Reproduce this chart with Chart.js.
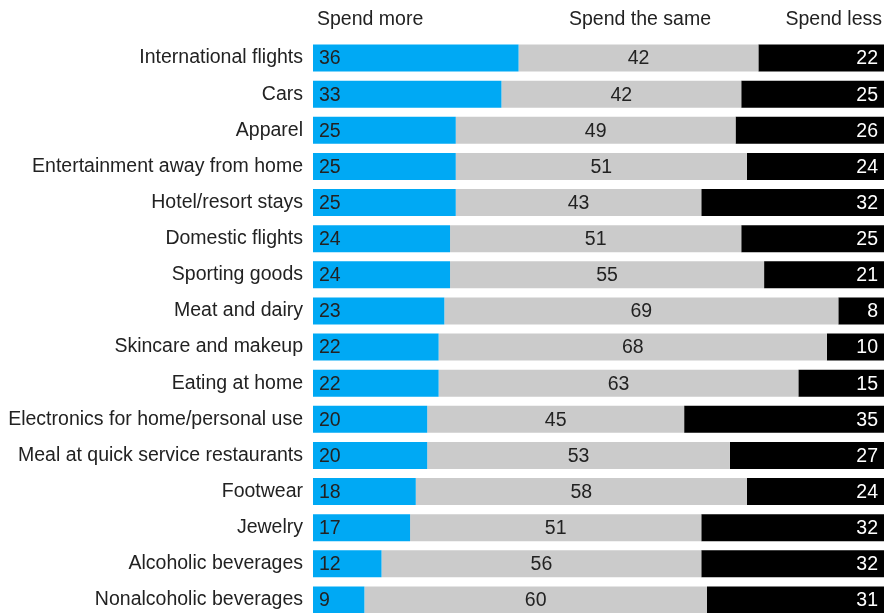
<!DOCTYPE html>
<html>
<head>
<meta charset="utf-8">
<script src="https://cdn.jsdelivr.net/npm/chart.js@4/dist/chart.umd.min.js"></script>
<style>
  html, body { margin: 0; padding: 0; background: #fff; overflow: hidden; }
  #zone { width: 884px; height: 618px; }
</style>
</head>
<body>
<div id="zone"><canvas id="graphique-depenses"></canvas></div>
<script>
// categories et valeurs (en %)
const categories = [
  "International flights",
  "Cars",
  "Apparel",
  "Entertainment away from home",
  "Hotel/resort stays",
  "Domestic flights",
  "Sporting goods",
  "Meat and dairy",
  "Skincare and makeup",
  "Eating at home",
  "Electronics for home/personal use",
  "Meal at quick service restaurants",
  "Footwear",
  "Jewelry",
  "Alcoholic beverages",
  "Nonalcoholic beverages",
];
const spendMore = [36, 33, 25, 25, 25, 24, 24, 23, 22, 22, 20, 20, 18, 17, 12, 9];
const spendSame = [42, 42, 49, 51, 43, 51, 55, 69, 68, 63, 45, 53, 58, 51, 56, 60];
const spendLess = [22, 25, 26, 24, 32, 25, 21, 8, 10, 15, 35, 27, 24, 32, 32, 31];
const seriesNames = ["Spend more", "Spend the same", "Spend less"];

const police = '"Liberation Sans", Arial, sans-serif';
const couleurTexte = "#222";

// plugin maison : valeurs dans les barres + titres des colonnes en haut
const etiquettes = {
  id: "etiquettes",
  afterDatasetsDraw(chart) {
    const ctx = chart.ctx;
    const zone = chart.chartArea;
    ctx.save();
    ctx.font = "19.5px " + police;
    ctx.textBaseline = "middle";
    chart.data.datasets.forEach((ds, i) => {
      const meta = chart.getDatasetMeta(i);
      meta.data.forEach((barre, j) => {
        const v = ds.data[j];
        const y = barre.y + 1;
        if (i === 0) {
          ctx.fillStyle = couleurTexte;
          ctx.textAlign = "left";
          ctx.fillText(v, barre.base + 6, y);
        } else if (i === 1) {
          ctx.fillStyle = couleurTexte;
          ctx.textAlign = "center";
          ctx.fillText(v, (barre.base + barre.x) / 2, y);
        } else {
          ctx.fillStyle = "#fff";
          ctx.textAlign = "right";
          ctx.fillText(v, barre.x - 6, y);
        }
      });
    });
    // titres des colonnes
    ctx.fillStyle = couleurTexte;
    const yTitre = 20;
    ctx.textAlign = "left";
    ctx.fillText(seriesNames[0], zone.left + 4, yTitre);
    ctx.textAlign = "center";
    ctx.fillText(seriesNames[1], 640, yTitre);
    ctx.textAlign = "right";
    ctx.fillText(seriesNames[2], zone.right - 2, yTitre);
    ctx.restore();
  },
};

const data = {
  labels: categories,
  datasets: [
    { label: seriesNames[0], data: spendMore, backgroundColor: "#00A9F4" },
    { label: seriesNames[1], data: spendSame, backgroundColor: "#CBCBCB" },
    { label: seriesNames[2], data: spendLess, backgroundColor: "#000000" },
  ],
};

const config = {
  type: "bar",
  data: data,
  options: {
    indexAxis: "y",
    responsive: true,
    maintainAspectRatio: false,
    animation: false,
    categoryPercentage: 1,
    barPercentage: 0.75,
    layout: { padding: { top: 40, right: 0, bottom: 0, left: 0 } },
    plugins: {
      legend: { display: false },
      tooltip: { enabled: false },
    },
    scales: {
      x: { stacked: true, min: 0, max: 100, display: false },
      y: {
        stacked: true,
        grid: { display: false, drawTicks: false },
        border: { display: false },
        ticks: {
          padding: 10,
          color: couleurTexte,
          font: { family: police, size: 19.5 },
        },
        // largeur fixe de l'axe, pas de marge haut/bas
        afterFit(scale) {
          scale.width = 313;
          scale.paddingTop = 0;
          scale.paddingBottom = 0;
        },
      },
    },
  },
  plugins: [etiquettes],
};

new Chart(document.querySelector("#graphique-depenses"), config);
</script>
</body>
</html>
